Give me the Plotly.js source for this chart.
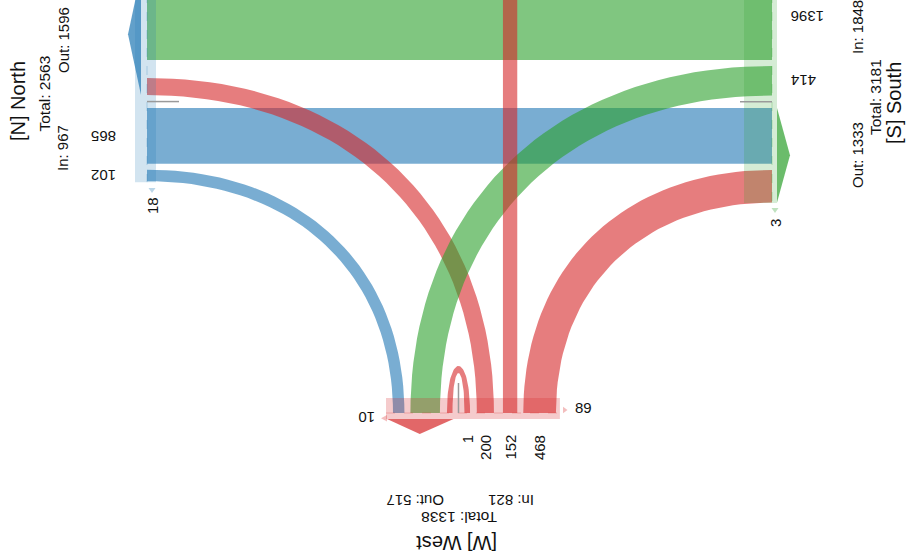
<!DOCTYPE html>
<html><head><meta charset="utf-8">
<script src="https://cdn.plot.ly/plotly-3.0.1.min.js"></script>
<style>html,body{margin:0;padding:0;background:#fff}#chart{width:908px;height:556px}</style>
</head><body><div id="chart"></div>
<script>
// ---------------- data ----------------
const nodeNames  = ['North', 'South', 'West', 'East'];
const nodeCodes  = ['N', 'S', 'W', 'E'];
const nodeTotal  = [2563, 3181, 1338, null];
const nodeIn     = [967, 1848, 821, null];
const nodeOut    = [1596, 1333, 517, null];
const nodeColors = ['#1f77b4', '#2ca02c', '#d62728', '#9467bd'];

const flowSource = ['North', 'South', 'West', 'North', 'West', 'South', 'East', 'West'];
const flowTarget = ['South', 'North', 'North', 'West', 'South', 'West', 'West', 'West'];
const flowValue  = [1396, 865, 102, 200, 414, 468, 152, 1];

const stubNode  = ['North', 'South', 'West', 'West'];
const stubValue = [18, 3, 10, 89];

// ---------------- layout (geometry) ----------------
const FONT = 'Liberation Sans, Arial, Helvetica, sans-serif';
const K = 0.6;
const bandWidth = v => 5.5 + 0.058 * v;
const WEST_Y = 413;
const colorOf = name => nodeColors[nodeNames.indexOf(name)];
function rgba(hex, a) {
  const n = parseInt(hex.slice(1), 16);
  return `rgba(${(n >> 16) & 255},${(n >> 8) & 255},${n & 255},${a})`;
}
const L = {
  North: { attach: 147, start: -26.5, gaps: [0, 18, 13, 6],
           slots: [[0, 'src'], [3, 'src'], [1, 'tgt'], [2, 'tgt']] },
  South: { attach: 772, start: -26.5, gaps: [0, 6, 12.5, 6.3],
           slots: [[0, 'tgt'], [4, 'tgt'], [1, 'src'], [5, 'src']] },
  West:  { attach: WEST_Y, start: 393, gaps: [0, 6, 7, 12, 6.8, 9, 6],
           slots: [[2, 'src'], [4, 'src'], [7, 'src'], [7, 'tgt'], [3, 'tgt'], [6, 'tgt'], [5, 'tgt']] }
};
const ends = flowValue.map(() => ({}));
const slotPos = {};
Object.keys(L).forEach(name => {
  const nd = L[name]; let pos = nd.start; slotPos[name] = [];
  nd.slots.forEach((s, i) => {
    pos += nd.gaps[i];
    const w = bandWidth(flowValue[s[0]]);
    const e = { node: name, a: pos, b: pos + w, end: s[1], flow: s[0] };
    ends[s[0]][s[1]] = e; slotPos[name].push(e);
    pos += w;
  });
});

function bez(p0, p1, p2, p3, n = 48) {
  const pts = [];
  for (let i = 0; i <= n; i++) {
    const t = i / n, u = 1 - t;
    pts.push([u*u*u*p0[0] + 3*u*u*t*p1[0] + 3*u*t*t*p2[0] + t*t*t*p3[0],
              u*u*u*p0[1] + 3*u*u*t*p1[1] + 3*u*t*t*p2[1] + t*t*t*p3[1]]);
  }
  return pts;
}
function cornerEdge(xs, y, x, yw) {
  return bez([xs, y], [xs + K * (x - xs), y], [x, yw - K * (yw - y)], [x, yw]);
}
const traces = [];
function poly(pts, fill) {
  traces.push({ type: 'scatter', mode: 'lines', x: pts.map(p => p[0]), y: pts.map(p => p[1]),
    fill: 'toself', fillcolor: fill, line: { width: 0, color: fill }, hoverinfo: 'skip' });
}
function line(xs, ys, color, w, dash) {
  traces.push({ type: 'scatter', mode: 'lines', x: xs, y: ys,
    line: { width: w, color: color, dash: dash || 'solid' }, hoverinfo: 'skip' });
}

// ---------------- flows ----------------
flowValue.forEach((v, f) => {
  const col = rgba(colorOf(flowTarget[f]), 0.6);
  const s = ends[f].src, t = ends[f].tgt;
  const sn = flowSource[f], tn = flowTarget[f];
  if ((sn === 'North' || sn === 'South') && (tn === 'North' || tn === 'South')) {
    const xa = L.North.attach, xb = L.South.attach;
    poly([[xa, s.a], [xb, s.a], [xb, s.b], [xa, s.b]], col);
  } else if (sn === 'East') {
    poly([[t.a, -60], [t.b, -60], [t.b, WEST_Y], [t.a, WEST_Y]], col);
  } else if (sn === tn) {
    const hO = 47, hI = 40;
    const outer = bez([s.a, WEST_Y], [s.a, WEST_Y - hO / 0.75], [t.b, WEST_Y - hO / 0.75], [t.b, WEST_Y]);
    const inner = bez([t.a, WEST_Y], [t.a, WEST_Y - hI / 0.75], [s.b, WEST_Y - hI / 0.75], [s.b, WEST_Y]);
    poly(outer.concat(inner), col);
  } else {
    const side = (sn === 'West') ? t : s;
    const west = (sn === 'West') ? s : t;
    const xs = L[side.node].attach;
    const farW = (xs < west.a) ? west.b : west.a;
    const nearW = (xs < west.a) ? west.a : west.b;
    const outer = cornerEdge(xs, side.a, farW, WEST_Y);
    const inner = cornerEdge(xs, side.b, nearW, WEST_Y).reverse();
    poly(outer.concat(inner), col);
  }
});

// ---------------- node bars ----------------
const nb = slotPos.North, sb = slotPos.South, wb = slotPos.West;
poly([[135, -60], [156, -60], [156, nb[3].b + 1], [135, nb[3].b + 1]], rgba(nodeColors[0], 0.2));
poly([[744, -60], [777, -60], [777, sb[3].b + 0.5], [744, sb[3].b + 0.5]], rgba(nodeColors[1], 0.2));
poly([[wb[0].a - 7, 398], [wb[6].b + 4, 398], [wb[6].b + 4, 419], [wb[0].a - 7, 419]], rgba(nodeColors[2], 0.24));
line([147, 147], [-60, nb[3].b + 1], rgba(nodeColors[0], 0.25), 1, 'dash');
line([772, 772], [-60, sb[3].b + 0.5], rgba(nodeColors[1], 0.25), 1, 'dash');
line([wb[0].a - 7, wb[6].b + 4], [WEST_Y, WEST_Y], rgba(nodeColors[2], 0.25), 1, 'dash');

// separators between out- and in-slots
const nSep = (nb[1].b + nb[2].a) / 2, sSep = (sb[1].b + sb[2].a) / 2, wSep = (wb[2].b + wb[3].a) / 2;
line([147, 179], [nSep, nSep], '#9a9a9a', 1.5);
line([740, 772], [sSep, sSep], '#9a9a9a', 1.5);
line([wSep, wSep], [383, WEST_Y], '#9a9a9a', 1.5);

// out arrows
const nOut = [nb[0].a, nb[1].b], sOut = [sb[2].a, sb[3].b], wOut = [wb[0].a, wb[2].b];
poly([[141, nOut[0]], [128, (nOut[0] + nOut[1]) / 2], [141, nOut[1]]], rgba(nodeColors[0], 0.7));
poly([[777, sOut[0]], [790, (sOut[0] + sOut[1]) / 2], [777, sOut[1]]], rgba(nodeColors[1], 0.7));
poly([[wOut[0] - 6, 419], [(wOut[0] + wOut[1]) / 2 - 3, 434], [wOut[1] + 1, 419]], rgba(nodeColors[2], 0.7));

// stubs
poly([[148.5, 188], [155.5, 188], [152, 193]], rgba(nodeColors[0], 0.3));
poly([[771.5, 208], [778.5, 208], [775, 213]], rgba(nodeColors[1], 0.3));
poly([[387, 415], [387, 421.5], [381, 418.2]], rgba(nodeColors[2], 0.3));
poly([[563, 406.7], [563, 413.3], [567.5, 410]], rgba(nodeColors[2], 0.3));

// ---------------- text ----------------
const ann = [];
function txt(text, x, y, size, angle, xa, ya) {
  ann.push({ text: text, x: x, y: y, xref: 'x', yref: 'y', showarrow: false, textangle: angle || 0,
    xanchor: xa || 'center', yanchor: ya || 'middle', font: { family: FONT, size: size, color: '#111' } });
}
// value labels at the receiving end of each flow
nb.filter(e => e.end === 'tgt').forEach(e => txt(String(flowValue[e.flow]), 118, (e.a + e.b) / 2, 15, 180, 'right'));
sb.filter(e => e.end === 'tgt').forEach(e => txt(String(flowValue[e.flow]), 789, (e.a + e.b) / 2, 15, 180, 'left'));
wb.filter(e => e.end === 'tgt').forEach(e => txt(String(flowValue[e.flow]), (e.a + e.b) / 2, 433, 15, -90, 'center', 'top'));
// stub labels
txt(String(stubValue[0]), 152, 206, 15, -90);
txt(String(stubValue[1]), 775, 223, 15, -90);
txt(String(stubValue[2]), 367, 418, 15, 180);
txt(String(stubValue[3]), 583, 407, 15, 0);
// node titles
const ni = n => nodeNames.indexOf(n);
const title = n => `[${nodeCodes[ni(n)]}] ${n}`;
txt(title('North'), 18, 101, 20, -90);
txt('Total: ' + nodeTotal[0], 43.5, 94, 15.5, -90);
txt('Out: ' + nodeOut[0], 63, 40, 15, -90);
txt('In: ' + nodeIn[0], 62, 148, 15, -90);
txt(title('South'), 894, 103, 20, -90);
txt('Total: ' + nodeTotal[1], 875, 97, 15.5, -90);
txt('In: ' + nodeIn[1], 857, 27, 15, -90);
txt('Out: ' + nodeOut[1], 857, 155, 15, -90);
txt(title('West'), 457, 543, 20, 180);
txt('Total: ' + nodeTotal[2], 459, 518, 15.5, 180);
txt('Out: ' + nodeOut[2], 415, 501, 15, 180);
txt('In: ' + nodeIn[2], 511, 501, 15, 180);

Plotly.newPlot('chart', traces, {
  width: 908, height: 556, margin: { l: 0, r: 0, t: 0, b: 0 },
  paper_bgcolor: '#fff', plot_bgcolor: '#fff', showlegend: false,
  xaxis: { range: [0, 908], visible: false, fixedrange: true },
  yaxis: { range: [556, 0], visible: false, fixedrange: true },
  annotations: ann
}, { staticPlot: true, displayModeBar: false });
</script></body></html>
